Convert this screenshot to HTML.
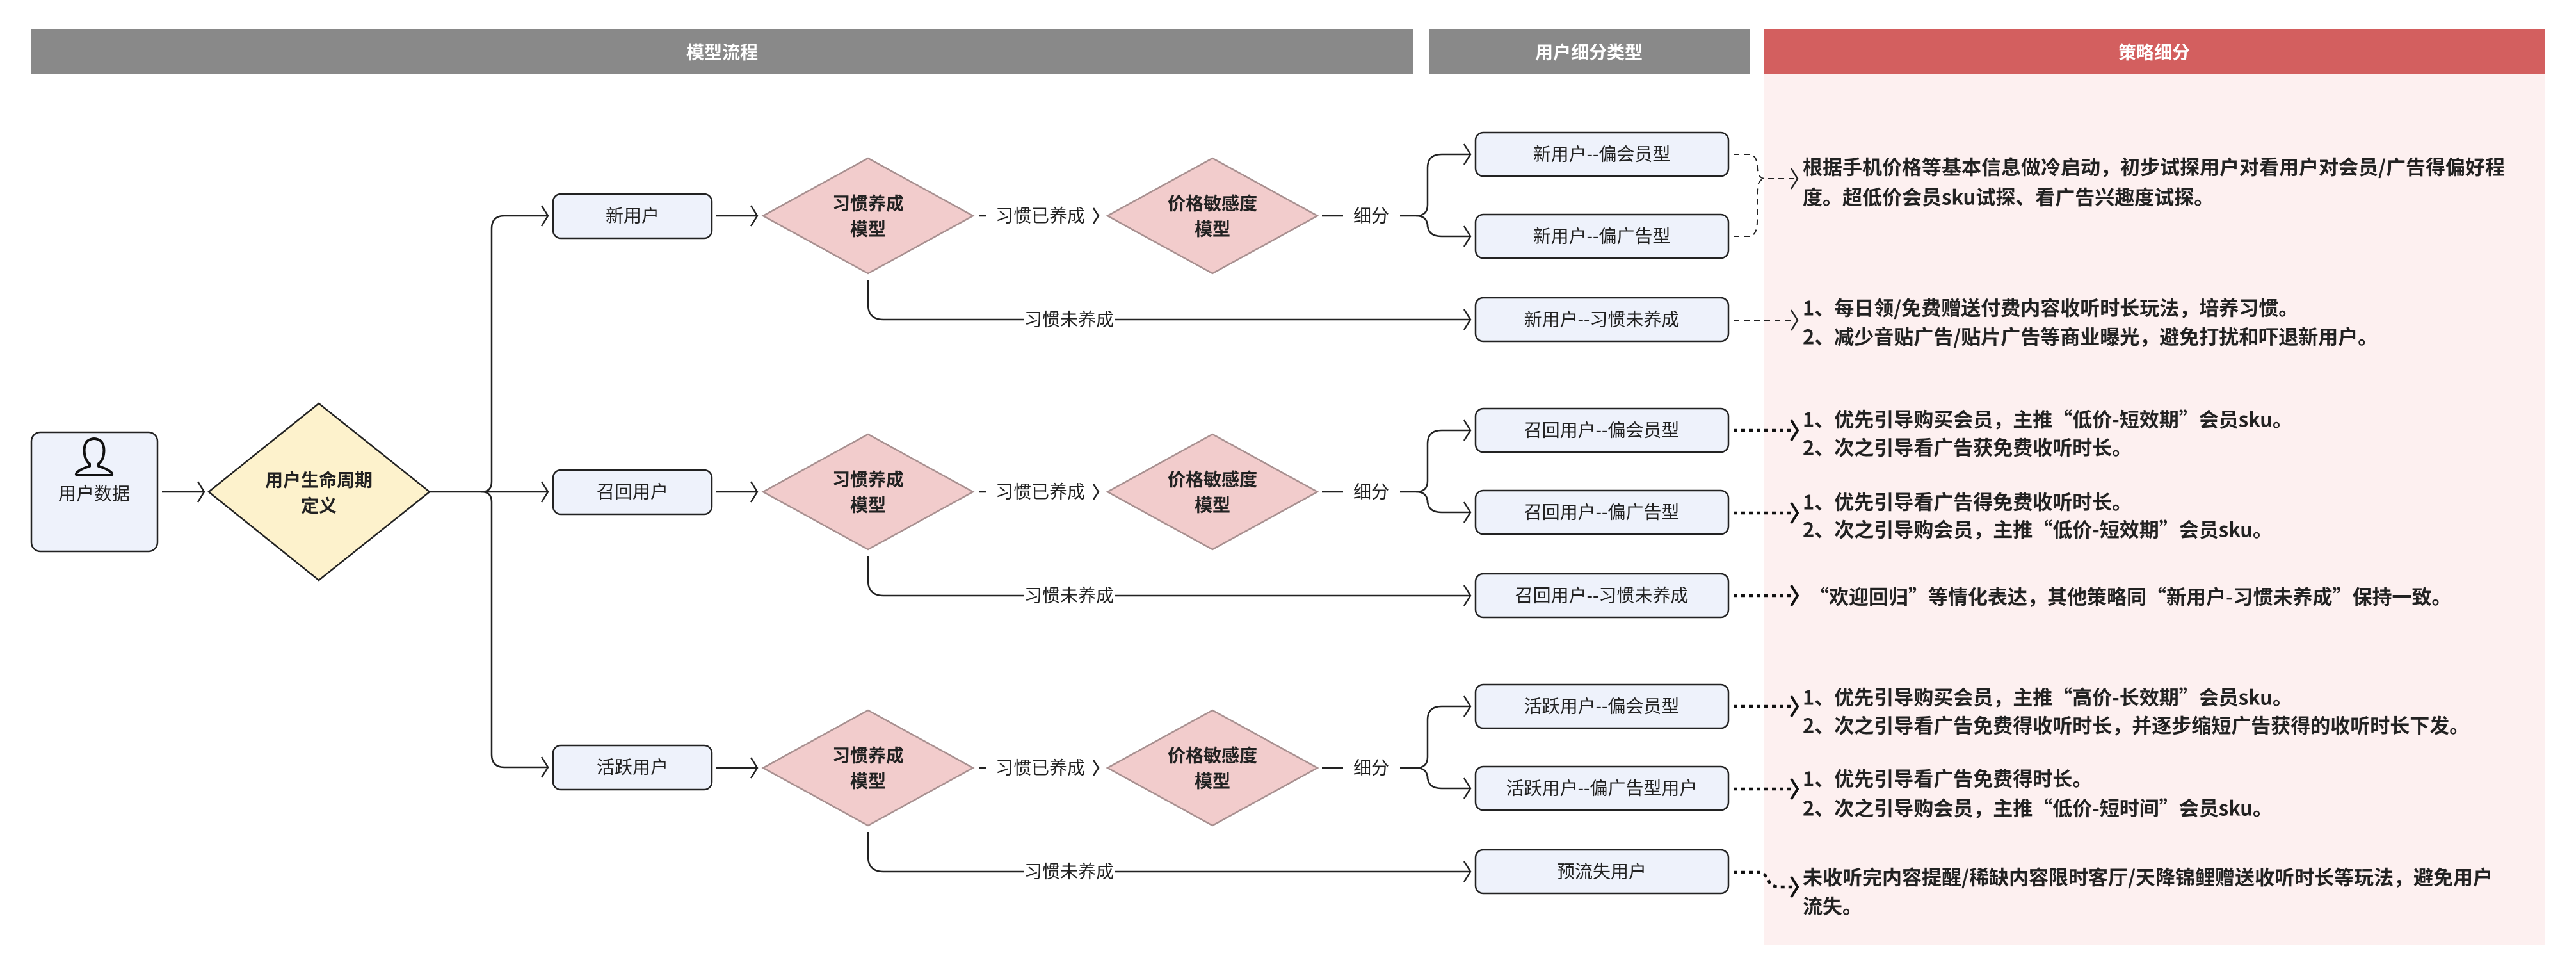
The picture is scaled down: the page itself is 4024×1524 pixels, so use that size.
<!DOCTYPE html>
<html><head><meta charset="utf-8"><style>
html,body{margin:0;padding:0;background:#fff;}
svg{display:block;}
text{font-family:"Liberation Sans","Noto Sans CJK SC",sans-serif;}
.n{font-size:28px;fill:#222;}
.b{font-size:28px;font-weight:bold;fill:#222;}
.h{font-size:28px;font-weight:bold;fill:#fff;}
.r{font-size:31px;font-weight:bold;fill:#222;font-family:"Noto Sans CJK SC","Liberation Sans",sans-serif;}
.ln{fill:none;stroke:#222;stroke-width:2.5;}
.ah{fill:none;stroke:#222;stroke-width:2.5;}
.ds{fill:none;stroke:#222;stroke-width:2;stroke-dasharray:9 7;}
.dd{fill:none;stroke:#111;stroke-width:4.5;stroke-dasharray:6 6;}
.ahb{fill:none;stroke:#111;stroke-width:4;}
.box{fill:#eef2fb;stroke:#222;stroke-width:2.5;}
.dia{fill:#f2cccc;stroke:#a89090;stroke-width:2.5;}
</style></head><body>
<svg width="4024" height="1524" viewBox="0 0 4024 1524" xmlns="http://www.w3.org/2000/svg">
<defs>
<g id="ar"><path class="ah" d="M-10,-16 L0,0 L-10,16"/></g>
<g id="arb"><path class="ahb" d="M-10,-16 L0,0 L-10,16"/></g>
</defs>
<rect x="49" y="46" width="2158" height="70" fill="#898989"/>
<text class="h" x="1128" y="82" text-anchor="middle" dominant-baseline="central">模型流程</text>
<rect x="2232" y="46" width="501" height="70" fill="#898989"/>
<text class="h" x="2482" y="82" text-anchor="middle" dominant-baseline="central">用户细分类型</text>
<rect x="2755" y="46" width="1221" height="70" fill="#d35f5f"/>
<text class="h" x="3365" y="82" text-anchor="middle" dominant-baseline="central">策略细分</text>
<rect x="2755" y="116" width="1221" height="1359" fill="#fdf0f0"/>

<rect class="box" x="49" y="675" width="197" height="186" rx="14"/>
<path d="M136,689 Q147,681 158,689 Q165,698 161,714 Q158,722 154,724 L154,728 Q168,732 174,738 Q177,742 172,742 L122,742 Q117,742 120,738 Q126,732 140,728 L140,724 Q136,722 133,714 Q129,698 136,689 Z" fill="none" stroke="#111" stroke-width="4" stroke-linejoin="round"/>
<text class="n" x="147" y="771" text-anchor="middle" dominant-baseline="central">用户数据</text>
<path class="ln" d="M253,768 H318"/><use href="#ar" x="319" y="768"/>
<polygon points="326,768 498,630 671,768 498,906" fill="#fdf2cc" stroke="#222" stroke-width="2.5"/>
<text class="b" x="498" y="750" text-anchor="middle" dominant-baseline="central">用户生命周期</text>
<text class="b" x="498" y="790" text-anchor="middle" dominant-baseline="central">定义</text>
<path class="ln" d="M671,768 H752 Q768,768 768,752 V357 Q768,337 788,337 H855"/>
<path class="ln" d="M752,768 Q768,768 768,784 V1178 Q768,1198 788,1198 H855"/>
<path class="ln" d="M752,768 H855"/>
<use href="#ar" x="856" y="337"/><use href="#ar" x="856" y="768"/><use href="#ar" x="856" y="1198"/>

<g id="row">
<path class="ln" d="M1119,337 H1182"/><use href="#ar" x="1183" y="337"/>
<polygon class="dia" points="1192,337 1356,247 1520,337 1356,427"/>
<text class="b" x="1356" y="318" text-anchor="middle" dominant-baseline="central">习惯养成</text>
<text class="b" x="1356" y="358" text-anchor="middle" dominant-baseline="central">模型</text>
<path class="ln" d="M1529,337 H1540"/>
<text class="n" x="1625" y="337" text-anchor="middle" dominant-baseline="central">习惯已养成</text>
<path class="ah" d="M1708,325 L1716,337 L1708,349"/>
<polygon class="dia" points="1730,337 1894,247 2058,337 1894,427"/>
<text class="b" x="1894" y="318" text-anchor="middle" dominant-baseline="central">价格敏感度</text>
<text class="b" x="1894" y="358" text-anchor="middle" dominant-baseline="central">模型</text>
<path class="ln" d="M2065,337 H2098"/>
<text class="n" x="2142" y="337" text-anchor="middle" dominant-baseline="central">细分</text>
<path class="ln" d="M2187,337 H2212 Q2230,337 2230,320 V262 Q2230,241 2252,241 H2296"/>
<path class="ln" d="M2212,337 Q2230,337 2230,354 V350 Q2230,369 2252,369 H2296"/>
<use href="#ar" x="2297" y="241"/><use href="#ar" x="2297" y="369"/>
<path class="ln" d="M1356,437 V475 Q1356,499 1380,499 H1600"/>
<text class="n" x="1670" y="499" text-anchor="middle" dominant-baseline="central">习惯未养成</text>
<path class="ln" d="M1742,499 H2296"/><use href="#ar" x="2297" y="499"/>
</g>
<use href="#row" y="431"/>
<use href="#row" y="862"/>

<rect class="box" x="864" y="303" width="248" height="69" rx="12"/>
<text class="n" x="988" y="337" text-anchor="middle" dominant-baseline="central">新用户</text>
<rect class="box" x="864" y="734" width="248" height="69" rx="12"/>
<text class="n" x="988" y="768" text-anchor="middle" dominant-baseline="central">召回用户</text>
<rect class="box" x="864" y="1164" width="248" height="69" rx="12"/>
<text class="n" x="988" y="1198" text-anchor="middle" dominant-baseline="central">活跃用户</text>

<g>
<rect class="box" x="2305" y="207" width="395" height="68" rx="12"/>
<text class="n" x="2502" y="241" text-anchor="middle" dominant-baseline="central">新用户--偏会员型</text>
<rect class="box" x="2305" y="335" width="395" height="68" rx="12"/>
<text class="n" x="2502" y="369" text-anchor="middle" dominant-baseline="central">新用户--偏广告型</text>
<rect class="box" x="2305" y="465" width="395" height="68" rx="12"/>
<text class="n" x="2502" y="499" text-anchor="middle" dominant-baseline="central">新用户--习惯未养成</text>
<rect class="box" x="2305" y="638" width="395" height="68" rx="12"/>
<text class="n" x="2502" y="672" text-anchor="middle" dominant-baseline="central">召回用户--偏会员型</text>
<rect class="box" x="2305" y="766" width="395" height="68" rx="12"/>
<text class="n" x="2502" y="800" text-anchor="middle" dominant-baseline="central">召回用户--偏广告型</text>
<rect class="box" x="2305" y="896" width="395" height="68" rx="12"/>
<text class="n" x="2502" y="930" text-anchor="middle" dominant-baseline="central">召回用户--习惯未养成</text>
<rect class="box" x="2305" y="1069" width="395" height="68" rx="12"/>
<text class="n" x="2502" y="1103" text-anchor="middle" dominant-baseline="central">活跃用户--偏会员型</text>
<rect class="box" x="2305" y="1197" width="395" height="68" rx="12"/>
<text class="n" x="2502" y="1231" text-anchor="middle" dominant-baseline="central">活跃用户--偏广告型用户</text>
<rect class="box" x="2305" y="1327" width="395" height="68" rx="12"/>
<text class="n" x="2502" y="1361" text-anchor="middle" dominant-baseline="central">预流失用户</text>
</g>

<path class="ds" d="M2708,241 H2735 Q2745,245 2745,260 Q2745,279 2758,279 H2804"/>
<path class="ds" d="M2708,369 H2735 Q2745,365 2745,345 V300 Q2745,279 2758,279"/>
<use href="#ar" x="2808" y="279"/>
<path class="ds" d="M2708,500 H2804"/><use href="#ar" x="2808" y="500"/>
<path class="dd" d="M2708,672 H2804"/><use href="#arb" x="2808" y="672"/>
<path class="dd" d="M2708,801 H2804"/><use href="#arb" x="2808" y="801"/>
<path class="dd" d="M2708,930 H2804"/><use href="#arb" x="2808" y="930"/>
<path class="dd" d="M2708,1103 H2804"/><use href="#arb" x="2808" y="1103"/>
<path class="dd" d="M2708,1232 H2804"/><use href="#arb" x="2808" y="1232"/>
<path class="dd" d="M2708,1362 H2750 Q2760,1366 2764,1378 Q2768,1385 2780,1385 H2804"/><use href="#arb" x="2808" y="1385"/>

<text class="r" x="2816" y="259" dominant-baseline="central">根据手机价格等基本信息做冷启动，初步试探用户对看用户对会员/广告得偏好程</text>
<text class="r" x="2816" y="306" dominant-baseline="central">度。超低价会员sku试探、看广告兴趣度试探。</text>
<text class="r" x="2816" y="479" dominant-baseline="central">1、每日领/免费赠送付费内容收听时长玩法，培养习惯。</text>
<text class="r" x="2816" y="524" dominant-baseline="central">2、减少音贴广告/贴片广告等商业曝光，避免打扰和吓退新用户。</text>
<text class="r" x="2816" y="653" dominant-baseline="central">1、优先引导购买会员，主推“低价-短效期”会员sku。</text>
<text class="r" x="2816" y="697" dominant-baseline="central">2、次之引导看广告获免费收听时长。</text>
<text class="r" x="2816" y="782" dominant-baseline="central">1、优先引导看广告得免费收听时长。</text>
<text class="r" x="2816" y="825" dominant-baseline="central">2、次之引导购会员，主推“低价-短效期”会员sku。</text>
<text class="r" x="2826" y="930" dominant-baseline="central">“欢迎回归”等情化表达，其他策略同“新用户-习惯未养成”保持一致。</text>
<text class="r" x="2816" y="1087" dominant-baseline="central">1、优先引导购买会员，主推“高价-长效期”会员sku。</text>
<text class="r" x="2816" y="1131" dominant-baseline="central">2、次之引导看广告免费得收听时长，并逐步缩短广告获得的收听时长下发。</text>
<text class="r" x="2816" y="1214" dominant-baseline="central">1、优先引导看广告免费得时长。</text>
<text class="r" x="2816" y="1260" dominant-baseline="central">2、次之引导购会员，主推“低价-短时间”会员sku。</text>
<text class="r" x="2816" y="1368" dominant-baseline="central">未收听完内容提醒/稀缺内容限时客厅/天降锦鲤赠送收听时长等玩法，避免用户</text>
<text class="r" x="2816" y="1413" dominant-baseline="central">流失。</text>
</svg>
</body></html>
